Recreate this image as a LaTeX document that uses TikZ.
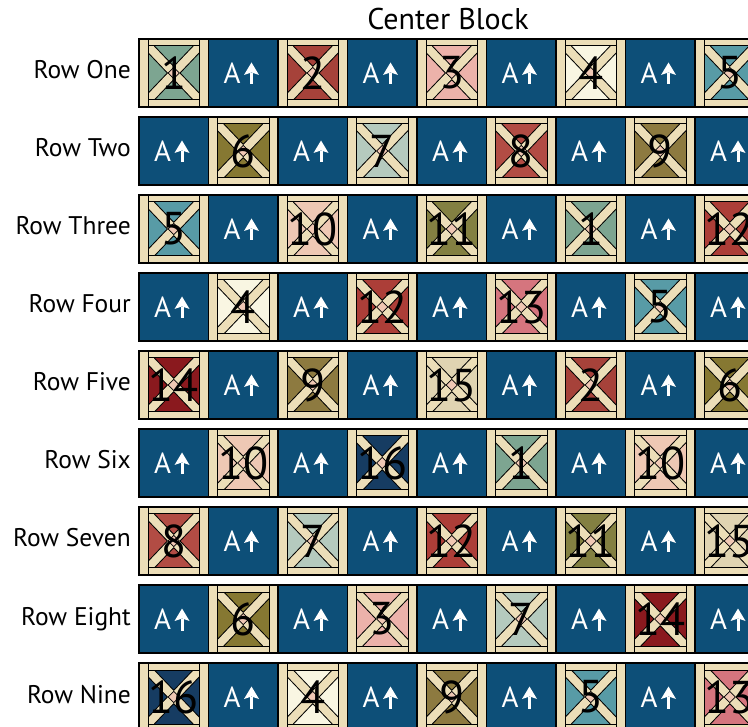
\documentclass[tikz,border=0pt]{standalone}
\usepackage{fontspec}
\setmainfont{PT Sans}

% Colori
\definecolor{sashing}{RGB}{236,222,184}
\definecolor{bluA}{RGB}{13,79,120}
\definecolor{rombo}{RGB}{240,200,180}
\definecolor{q1}{RGB}{125,165,145}
\definecolor{q2}{RGB}{166,66,58}
\definecolor{q3}{RGB}{236,178,170}
\definecolor{q4}{RGB}{249,246,226}
\definecolor{q5}{RGB}{88,155,166}
\definecolor{q6}{RGB}{134,120,50}
\definecolor{q7}{RGB}{181,202,190}
\definecolor{q8}{RGB}{178,76,68}
\definecolor{q9}{RGB}{141,122,64}
\definecolor{q10}{RGB}{238,200,180}
\definecolor{q11}{RGB}{131,128,66}
\definecolor{q12}{RGB}{172,62,56}
\definecolor{q13}{RGB}{213,117,126}
\definecolor{q14}{RGB}{138,25,30}
\definecolor{q15}{RGB}{224,212,178}
\definecolor{q16}{RGB}{22,60,98}

\tikzset{
  bordo/.style={draw=black, line width=1.2pt},
  linea/.style={draw=black, line width=1pt},
  numero/.style={font=\fontsize{46}{46}\selectfont, inner sep=0pt},
  lettera/.style={font=\fontsize{29}{29}\selectfont, text=white, inner sep=0pt},
  etichetta/.style={font=\fontsize{25.5}{25.5}\selectfont, anchor=base east, inner sep=0pt},
}

\begin{document}
\begin{tikzpicture}[x=1pt, y=-1pt]
    \useasboundingbox (0,0) rectangle (748,727);
    \clip (0,0) rectangle (748,727);

    % Titolo
    \node[font=\fontsize{30}{30}\selectfont, anchor=base, inner sep=0pt] (titolo) at (448,30) {Center Block};

    % Righe di blocchi (0 = blocco A)
    \foreach \riga/\nome/\lista in {0/One/{1,0,2,0,3,0,4,0,5},
                                    1/Two/{0,6,0,7,0,8,0,9,0},
                                    2/Three/{5,0,10,0,11,0,1,0,12},
                                    3/Four/{0,4,0,12,0,13,0,5,0},
                                    4/Five/{14,0,9,0,15,0,2,0,6},
                                    5/Six/{0,10,0,16,0,1,0,10,0},
                                    6/Seven/{8,0,7,0,12,0,11,0,15},
                                    7/Eight/{0,6,0,3,0,7,0,14,0},
                                    8/Nine/{16,0,4,0,9,0,5,0,13}} {
        \pgfmathsetmacro{\ya}{39+78*\riga}
        \node[etichetta] (riga\riga) at (131,\ya+40) {Row \nome};
        \foreach \q [count=\col from 0] in \lista {
            \pgfmathsetmacro{\xa}{139+69.5*\col}
            \ifnum\q=0
                % Blocco A
                \fill[bluA] (\xa,\ya) rectangle ++(69.5,68);
                \draw[bordo] (\xa,\ya) rectangle ++(69.5,68);
                \node[lettera] (a-\riga-\col) at (\xa+23.5,\ya+34) {A};
                \fill[white] (\xa+35.5,\ya+36) -- (\xa+43,\ya+23.5) -- (\xa+50.5,\ya+36) -- (\xa+43,\ya+33.5) -- cycle;
                \fill[white] (\xa+41.5,\ya+34) rectangle (\xa+44.5,\ya+45.5);
            \else
                % Blocco con la croce
                \fill[sashing] (\xa,\ya) rectangle ++(69.5,68);
                \fill[q\q] (\xa+9,\ya+7) rectangle (\xa+60.5,\ya+61);
                \begin{scope}
                    \clip (\xa+9,\ya+7) rectangle (\xa+60.5,\ya+61);
                    \draw[line width=10pt] (\xa+9,\ya+7) -- (\xa+60.5,\ya+61) (\xa+9,\ya+61) -- (\xa+60.5,\ya+7);
                    \draw[sashing, line width=8pt] (\xa+9,\ya+7) -- (\xa+60.5,\ya+61) (\xa+9,\ya+61) -- (\xa+60.5,\ya+7);
                \end{scope}
                \filldraw[fill=rombo, draw=black, line width=0.8pt] (\xa+29.1,\ya+34) -- (\xa+34.75,\ya+28.35) -- (\xa+40.4,\ya+34) -- (\xa+34.75,\ya+39.65) -- cycle;
                \draw[linea] (\xa+9,\ya) -- (\xa+9,\ya+68) (\xa+60.5,\ya) -- (\xa+60.5,\ya+68);
                \draw[linea] (\xa+9,\ya+7) rectangle (\xa+60.5,\ya+61);
                \draw[bordo] (\xa,\ya) rectangle ++(69.5,68);
                \node[numero] (n-\riga-\col) at (\xa+34.75,\ya+34) {\q};
            \fi
        }
    }
\end{tikzpicture}
\end{document}
